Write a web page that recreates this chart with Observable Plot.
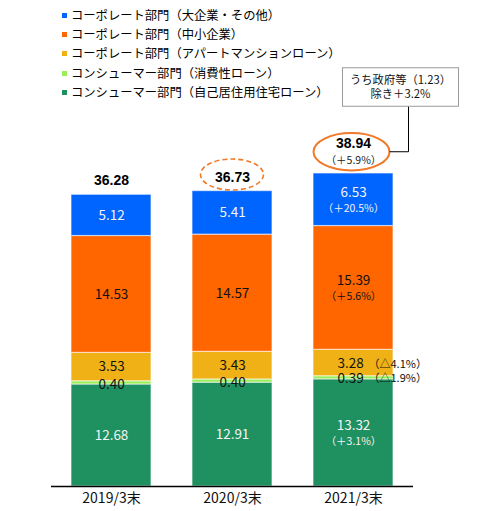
<!DOCTYPE html>
<html>
<head>
<meta charset="utf-8">
<script src="https://cdn.jsdelivr.net/npm/d3@7"></script>
<script src="https://cdn.jsdelivr.net/npm/@observablehq/plot@0.6"></script>
<style>
  body { margin: 0; background: #fff; }
  #wrap { position: relative; width: 501px; height: 511px; }
  #legend { position: absolute; left: 62px; top: 6px; font: 12.3px "Noto Sans CJK JP", sans-serif; color: #000; }
  #legend div { height: 19.2px; line-height: 19.2px; white-space: nowrap; }
  #legend span { display: inline-block; width: 5px; height: 5px; margin-right: 4px; vertical-align: 2px; }
</style>
</head>
<body>
<div id="wrap">
  <div id="chart"></div>
  <div id="legend"></div>
</div>
<script>
const years = ['2019/3末', '2020/3末', '2021/3末']

// orden de apilado: de abajo hacia arriba
const segments = [
  'コンシューマー部門（自己居住用住宅ローン）',
  'コンシューマー部門（消費性ローン）',
  'コーポレート部門（アパートマンションローン）',
  'コーポレート部門（中小企業）',
  'コーポレート部門（大企業・その他）'
]
const colors = ['#1F9161', '#9BEE58', '#EFB115', '#FF6600', '#0064FF']

const housing = [12.68, 12.91, 13.32]
const consumer = [0.40, 0.40, 0.39]
const apartment = [3.53, 3.43, 3.28]
const sme = [14.53, 14.57, 15.39]
const large = [5.12, 5.41, 6.53]
const totals = [36.28, 36.73, 38.94]

// variación 2021/3末 por segmento y total
const changes2021 = ['（＋3.1%）', '（△1.9%）', '（△4.1%）', '（＋5.6%）', '（＋20.5%）']
const totalChange2021 = '（＋5.9%）'

const series = [housing, consumer, apartment, sme, large]
const rows = years.flatMap((year, i) =>
  segments.map((segment, j) => ({year, segment, value: series[j][i], change: i === 2 ? changes2021[j] : null}))
)
const totalRows = years.map((year, i) => ({year, total: totals[i], change: i === 2 ? totalChange2021 : null}))

const last = years[2]
const isLight = d => d.segment === segments[0] || d.segment === segments[4]
const isSmall = d => d.segment === segments[1] || d.segment === segments[2]
const isThin = d => d.segment === segments[1]
const fmt = v => v.toFixed(2)
const font = '"Noto Sans CJK JP", sans-serif'

// etiqueta apilada en el centro de cada segmento
const label = (text, fill, opts = {}) => Plot.text(rows, Plot.stackY({
  x: 'year', y: 'value', z: 'segment', order: segments,
  text, fill, fontSize: 13.5, fontFamily: font, ...opts
}))

let chart = Plot.plot({
  width: 501,
  height: 511,
  marginLeft: 51,
  marginRight: 88,
  marginTop: 124,
  marginBottom: 25,
  style: {fontFamily: font, fontSize: '14px', color: '#111'},
  x: {domain: years, paddingInner: 0.339, paddingOuter: 0.165, label: null, tickSize: 0, tickPadding: 7},
  y: {domain: [0, 45], axis: null},
  color: {domain: segments, range: colors},
  marks: [
    Plot.barY(rows, {
      x: 'year', y: 'value', fill: 'segment', order: segments,
      stroke: '#fff', strokeOpacity: 0.55, strokeWidth: 1.2
    }),
    Plot.ruleY([0], {stroke: '#000', strokeWidth: 1.5}),
    // 2019, 2020: una línea
    label(d => d.year !== last && isLight(d) ? fmt(d.value) : null, '#f4f4f4'),
    label(d => d.year !== last && !isLight(d) && !isThin(d) ? fmt(d.value) : null, '#111'),
    label(d => d.year !== last && isThin(d) ? fmt(d.value) : null, '#111', {dy: 1.5}),
    // 2021: valor + variación debajo
    label(d => d.year === last && isLight(d) ? fmt(d.value) : null, '#f4f4f4', {dy: -7}),
    label(d => d.year === last && isLight(d) ? d.change : null, '#f4f4f4', {dy: 9, fontSize: 10.5}),
    label(d => d.year === last && d.segment === segments[3] ? fmt(d.value) : null, '#111', {dy: -7}),
    label(d => d.year === last && d.segment === segments[3] ? d.change : null, '#111', {dy: 9, fontSize: 10.5}),
    // 2021: segmentos chicos, variación a la derecha
    label(d => d.year === last && isSmall(d) ? fmt(d.value) : null, '#111', {dx: -3, dy: 1}),
    label(d => d.year === last && isSmall(d) ? d.change : null, '#111', {dx: 15, dy: 1, textAnchor: 'start', fontSize: 11}),
    // totales
    Plot.text(totalRows, {
      x: 'year', y: 'total', text: d => d.change ? null : fmt(d.total),
      dy: -14, fontWeight: 'bold', fontSize: 14, fontFamily: 'Liberation Sans, Arial, sans-serif', fill: '#000'
    }),
    Plot.text(totalRows, {
      x: 'year', y: 'total', text: d => d.change ? fmt(d.total) : null,
      dy: -30, fontWeight: 'bold', fontSize: 14, fontFamily: 'Liberation Sans, Arial, sans-serif', fill: '#000'
    }),
    Plot.text(totalRows, {
      x: 'year', y: 'total', text: 'change', dy: -13, fontSize: 10.5, fill: '#222'
    })
  ]
})

d3.select('#chart').append(() => chart)

/* anotaciones: óvalos y recuadro */
const sx = chart.scale('x'), sy = chart.scale('y')
const svg = d3.select(chart)
const cx = y => sx.apply(y) + sx.bandwidth / 2

const c2 = {x: cx(years[1]), y: sy.apply(totals[1]) - 16}
svg.append('ellipse')
  .attr('cx', c2.x).attr('cy', c2.y).attr('rx', 31.5).attr('ry', 15.5)
  .attr('fill', 'none').attr('stroke', '#F07A28').attr('stroke-width', 1.6)
  .attr('stroke-dasharray', '5,3')

const c3 = {x: cx(years[2]) - 1.5, y: sy.apply(totals[2]) - 21}
svg.append('ellipse')
  .attr('cx', c3.x).attr('cy', c3.y).attr('rx', 38).attr('ry', 18.7)
  .attr('fill', 'none').attr('stroke', '#F07A28').attr('stroke-width', 2)

const box = {x: c3.x - 9, y: c3.y - 84, w: 116, h: 38.5}
const lx = c3.x + 57
svg.append('path')
  .attr('d', `M${lx},${box.y + box.h}V${c3.y}H${c3.x + 38}`)
  .attr('fill', 'none').attr('stroke', '#000').attr('stroke-width', 1)
svg.append('rect')
  .attr('x', box.x).attr('y', box.y).attr('width', box.w).attr('height', box.h)
  .attr('fill', '#fff').attr('stroke', '#9a9a9a').attr('stroke-width', 1)
const boxText = ['うち政府等（1.23）', '除き＋3.2%']
boxText.forEach((t, i) => {
  svg.append('text')
    .attr('x', box.x + box.w / 2).attr('y', box.y + 13 + i * 14)
    .attr('text-anchor', 'middle').attr('dominant-baseline', 'middle')
    .attr('font-size', 11.3).attr('fill', '#111').text(t)
})

/* leyenda */
const legend = d3.select('#legend')
segments.slice().reverse().forEach((s, i) => {
  const row = legend.append('div')
  row.append('span').style('background', colors[segments.length - 1 - i])
  row.append('text').text(s)
})
</script>
</body>
</html>
